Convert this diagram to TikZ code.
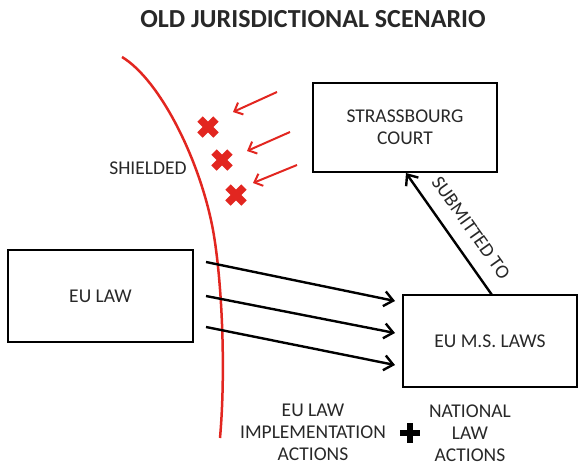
\documentclass[tikz,border=0pt]{standalone}
\usepackage{fontspec}
\setmainfont{Carlito}
\usetikzlibrary{arrows.meta,calc}
\definecolor{myred}{RGB}{226,38,32}
\definecolor{txt}{RGB}{40,40,40}
\tikzset{
  box/.style={draw=black, line width=2pt, rectangle, inner sep=0pt, text=txt, align=center,
    font=\fontsize{19.5}{22}\selectfont},
  lbl/.style={text=txt, align=center, inner sep=0pt, font=\fontsize{19.5}{22}\selectfont},
  blackarrow/.style={draw=black, line width=2.4pt, -{Straight Barb[length=9pt,width=15pt,line width=2.4pt]}},
  redarrow/.style={draw=myred, line width=2pt, -{Straight Barb[length=7pt,width=13pt,line width=2pt]}},
  redx/.style={draw=myred, line width=7.5pt},
}
\begin{document}
\begin{tikzpicture}[x=1pt,y=-1pt]
\useasboundingbox (0,0) rectangle (579,466);
% title
\node[text=txt, inner sep=0pt, font=\fontsize{26}{28}\bfseries\selectfont] (title) at (313,19) {OLD JURISDICTIONAL SCENARIO};
% boxes
\node[box, minimum width=185pt, minimum height=92pt] (eulaw) at (100.5,296) {EU LAW};
\node[box, minimum width=184pt, minimum height=89pt] (court) at (405,127.5) {STRASSBOURG\\COURT};
\node[box, minimum width=174pt, minimum height=92pt] (ms) at (490,341) {EU M.S. LAWS};
% shield curve
\draw[myred, line width=2.5pt] (122,57) .. controls (160,80) and (200,160) .. (213,230)
  .. controls (222,280) and (226,370) .. (220,438);
\node[lbl] (shielded) at (148,168) {SHIELDED};
% red crosses
\foreach \n/\cx/\cy in {x1/208/127, x2/222/160, x3/236/195}{
  \coordinate (\n) at (\cx,\cy);
  \draw[redx] ($(\n)+(-8,-8)$) -- ($(\n)+(8,8)$);
  \draw[redx] ($(\n)+(-8,8)$) -- ($(\n)+(8,-8)$);
}
% red arrows
\coordinate (r1s) at (277,92);  \coordinate (r1e) at (233,112);
\coordinate (r2s) at (290,132); \coordinate (r2e) at (247,151);
\coordinate (r3s) at (297,165); \coordinate (r3e) at (253,183);
\draw[redarrow] (r1s) -- (r1e);
\draw[redarrow] (r2s) -- (r2e);
\draw[redarrow] (r3s) -- (r3e);
% black arrows
\coordinate (b1s) at (206,262); \coordinate (b1e) at (395,301);
\coordinate (b2s) at (206,296); \coordinate (b2e) at (395,333);
\coordinate (b3s) at (206,327); \coordinate (b3e) at (395,365);
\draw[blackarrow] (b1s) -- (b1e);
\draw[blackarrow] (b2s) -- (b2e);
\draw[blackarrow] (b3s) -- (b3e);
% submitted to
\coordinate (subs) at (492,295);
\coordinate (sube) at (406,173);
\draw[blackarrow] (subs) -- (sube);
\node[lbl, rotate=-54.6] (subm) at (471,228) {SUBMITTED TO};
% bottom texts
\node[lbl] (impl) at (313,432) {EU LAW\\IMPLEMENTATION\\ACTIONS};
\node[lbl] (nat) at (470,433) {NATIONAL\\LAW\\ACTIONS};
\coordinate (plus) at (410,433);
\draw[black, line width=6pt] ($(plus)+(-10,0)$) -- ($(plus)+(10,0)$);
\draw[black, line width=6pt] ($(plus)+(0,-10)$) -- ($(plus)+(0,10)$);
\end{tikzpicture}
\end{document}
